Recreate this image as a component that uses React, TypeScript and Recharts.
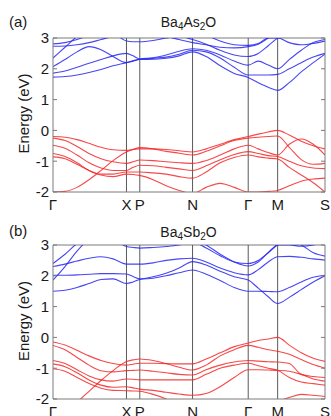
import React from 'react';
import { LineChart, Line, XAxis, YAxis, ReferenceLine } from 'recharts';

// k-path sample positions (arbitrary path-length units)
const kGrid = [0, 12, 24, 36, 48, 60, 73.4, 80, 86.7, 100, 113, 126, 139.4, 153, 167, 181, 195, 205, 215, 224.4, 236, 248, 260, 271.7];
const kTicks = [0, 73.4, 86.7, 139.4, 195, 224.4, 271.7];
const kLabels = ['Γ', 'X', 'P', 'N', 'Γ', 'M', 'S'];
const energyTicks = [-2, -1, 0, 1, 2, 3];

// Ba4As2O conduction bands
const asCond1 = [1.73, 1.75, 1.8, 1.88, 1.98, 2.1, 2.2, 2.25, 2.3, 2.31, 2.34, 2.42, 2.55, 2.4, 2.1, 1.85, 1.72, 1.55, 1.4, 1.3, 1.55, 1.9, 2.2, 2.48];
const asCond2 = [1.86, 1.93, 2.05, 2.18, 2.3, 2.42, 2.5, 2.42, 2.32, 2.34, 2.38, 2.47, 2.6, 2.55, 2.35, 2.05, 1.8, 1.8, 1.8, 1.82, 2.0, 2.2, 2.38, 2.5];
const asCond3 = [2.07, 2.3, 2.55, 2.72, 2.62, 2.4, 2.2, 2.26, 2.32, 2.36, 2.45, 2.57, 2.65, 2.6, 2.45, 2.25, 2.12, 2.25, 2.12, 2.0, 2.3, 2.6, 2.85, 2.95];
const asCond4 = [2.35, 2.7, 3.05, 3.3, 3.4, 3.2, 2.9, 2.88, 2.88, 2.92, 3.0, 3.05, 2.95, 2.8, 2.6, 2.45, 2.4, 2.5, 2.75, 3.0, 3.2, 3.3, 3.3, 3.3];
const asCond5 = [2.73, 2.74, 2.78, 2.85, 2.95, 3.05, 3.1, 3.1, 3.1, 3.1, 3.05, 2.95, 2.85, 2.78, 2.7, 2.68, 2.72, 2.8, 3.0, 3.2, 3.3, 3.3, 3.3, 3.3];
const asCond6 = [2.81, 2.85, 2.95, 3.1, 3.3, 3.4, 3.4, 3.4, 3.4, 3.4, 3.4, 3.35, 3.3, 3.1, 2.9, 2.78, 2.76, 2.82, 3.0, 3.0, 2.85, 2.78, 2.82, 2.9];

// Ba4As2O valence bands
const asVal1 = [-0.2, -0.22, -0.3, -0.42, -0.55, -0.63, -0.65, -0.62, -0.6, -0.6, -0.62, -0.66, -0.7, -0.6, -0.45, -0.3, -0.2, -0.12, -0.05, 0.0, -0.15, -0.35, -0.5, -0.6];
const asVal2 = [-2.0, -1.98, -1.85, -1.6, -1.3, -0.98, -0.7, -0.62, -0.56, -0.6, -0.68, -0.74, -0.8, -0.68, -0.5, -0.33, -0.25, -0.22, -0.2, -0.18, -0.55, -0.95, -1.1, -1.07];
const asVal3 = [-0.25, -0.33, -0.52, -0.75, -0.92, -1.02, -1.07, -1.02, -0.96, -0.98, -1.02, -1.05, -1.07, -0.98, -0.8, -0.6, -0.48, -0.6, -0.72, -0.8, -0.45, -0.28, -0.45, -0.8];
const asVal4 = [-0.48, -0.58, -0.8, -1.05, -1.22, -1.3, -1.3, -1.2, -1.13, -1.15, -1.2, -1.25, -1.3, -1.15, -0.95, -0.78, -0.69, -0.75, -0.82, -0.85, -1.0, -1.15, -1.22, -1.24];
const asVal5 = [-0.75, -0.85, -1.05, -1.3, -1.42, -1.42, -1.35, -1.35, -1.35, -1.38, -1.42, -1.5, -1.55, -1.35, -1.05, -0.88, -0.8, -0.86, -0.9, -0.93, -1.2, -1.45, -1.7, -2.0];
const asVal6 = [-0.86, -0.92, -1.1, -1.3, -1.45, -1.5, -1.42, -1.43, -1.46, -1.6, -1.8, -1.95, -2.05, -1.85, -1.72, -1.85, -2.0, -2.0, -1.98, -1.95, -1.8, -1.65, -1.58, -1.55];

// Ba4Sb2O conduction bands
const sbCond1 = [1.5, 1.53, 1.62, 1.75, 1.88, 1.9, 1.75, 1.8, 1.88, 1.92, 2.0, 2.1, 2.19, 2.05, 1.85, 1.62, 1.5, 1.5, 1.49, 1.48, 1.62, 1.8, 1.95, 2.02];
const sbCond2 = [2.02, 2.02, 2.03, 2.05, 2.07, 2.07, 2.06, 1.98, 1.9, 1.97, 2.08, 2.25, 2.46, 2.35, 2.15, 1.97, 1.86, 1.6, 1.32, 1.1, 1.3, 1.55, 1.8, 2.0];
const sbCond3 = [2.3, 2.38, 2.48, 2.57, 2.62, 2.55, 2.38, 2.38, 2.38, 2.42, 2.5, 2.55, 2.57, 2.45, 2.25, 2.1, 2.03, 2.2, 2.45, 2.62, 2.63, 2.6, 2.55, 2.51];
const sbCond4 = [2.4, 2.7, 3.05, 3.3, 3.4, 3.2, 2.95, 2.92, 2.9, 2.92, 2.95, 3.0, 3.1, 2.9, 2.65, 2.45, 2.4, 2.5, 2.75, 3.0, 3.1, 3.0, 2.75, 2.64];
const sbCond5 = [1.86, 2.3, 2.8, 3.2, 3.4, 3.4, 3.4, 3.4, 3.4, 3.35, 3.3, 3.25, 3.2, 3.0, 2.7, 2.45, 2.32, 2.45, 2.75, 3.0, 3.0, 2.96, 3.0, 3.1];

// Ba4Sb2O valence bands
const sbVal1 = [-0.15, -0.25, -0.42, -0.6, -0.75, -0.85, -0.9, -0.87, -0.84, -0.84, -0.85, -0.86, -0.86, -0.7, -0.5, -0.3, -0.18, -0.1, -0.05, 0.0, -0.25, -0.5, -0.68, -0.78];
const sbVal2 = [-2.6, -2.4, -2.1, -1.75, -1.4, -1.08, -0.78, -0.73, -0.7, -0.75, -0.85, -0.97, -1.06, -0.9, -0.6, -0.4, -0.26, -0.32, -0.4, -0.45, -0.55, -0.72, -0.88, -1.0];
const sbVal3 = [-0.26, -0.4, -0.65, -0.9, -1.08, -1.12, -1.08, -1.07, -1.06, -1.1, -1.15, -1.2, -1.22, -1.05, -0.9, -0.8, -0.75, -0.77, -0.79, -0.8, -0.85, -1.2, -1.27, -1.3];
const sbVal4 = [-0.75, -0.85, -1.05, -1.25, -1.38, -1.42, -1.35, -1.36, -1.38, -1.38, -1.38, -1.38, -1.38, -1.2, -1.0, -0.9, -0.84, -0.92, -1.0, -1.07, -1.3, -1.45, -1.5, -1.55];
const sbVal5 = [-0.86, -0.95, -1.15, -1.38, -1.55, -1.62, -1.6, -1.64, -1.68, -1.72, -1.78, -1.84, -1.88, -1.82, -1.6, -1.3, -1.05, -1.05, -1.06, -1.07, -1.1, -1.2, -1.35, -1.42];
const sbVal6 = [-1.02, -1.1, -1.3, -1.5, -1.65, -1.72, -1.73, -1.74, -1.75, -1.85, -2.0, -2.2, -2.4, -2.35, -2.25, -2.15, -2.08, -2.06, -2.05, -2.05, -1.95, -1.85, -1.88, -1.92];

const asCond = [asCond1, asCond2, asCond3, asCond4, asCond5, asCond6];
const asVal = [asVal1, asVal2, asVal3, asVal4, asVal5, asVal6];
const sbCond = [sbCond1, sbCond2, sbCond3, sbCond4, sbCond5];
const sbVal = [sbVal1, sbVal2, sbVal3, sbVal4, sbVal5, sbVal6];

const BLUE = '#2626f2';
const RED = '#f52828';
const FRAME = '#7a7a7a';
const FONT = '"Liberation Sans", Arial, sans-serif';

function buildRows(cond: number[][], val: number[][]) {
  return kGrid.map((k, i) => {
    const row: Record<string, number> = { k };
    cond.forEach((b, j) => { row['c' + j] = b[i]; });
    val.forEach((b, j) => { row['v' + j] = b[i]; });
    return row;
  });
}

function BandPanel({ cond, val }: { cond: number[][]; val: number[][] }) {
  const data = buildRows(cond, val);
  const tickStyle = { fontSize: 15, fill: '#1a1a1a', fontFamily: FONT };
  return (
    <LineChart width={331} height={216} data={data} margin={{ top: 38, right: 0, bottom: 0, left: 0 }}>
      <XAxis
        dataKey="k"
        type="number"
        domain={[0, 271.7]}
        allowDataOverflow
        ticks={kTicks}
        interval={0}
        tickFormatter={(v: number) => kLabels[kTicks.indexOf(v)] ?? ''}
        tickSize={0}
        tickMargin={7}
        height={24}
        tick={tickStyle}
        axisLine={{ stroke: FRAME, strokeWidth: 1 }}
      />
      <YAxis
        yAxisId="left"
        type="number"
        domain={[-2, 3]}
        allowDataOverflow
        ticks={energyTicks}
        interval={0}
        width={53}
        tickSize={-4}
        tickMargin={8}
        tick={tickStyle}
        tickLine={{ stroke: FRAME }}
        axisLine={{ stroke: FRAME, strokeWidth: 1 }}
      />
      <YAxis
        yAxisId="right"
        orientation="right"
        type="number"
        domain={[-2, 3]}
        allowDataOverflow
        ticks={energyTicks}
        interval={0}
        width={6}
        tickSize={-4}
        tickFormatter={() => ''}
        tickLine={{ stroke: FRAME }}
        axisLine={{ stroke: FRAME, strokeWidth: 1 }}
      />
      <ReferenceLine yAxisId="left" y={3} stroke={FRAME} strokeWidth={1} />
      {kTicks.slice(1, 6).map((x, i) => (
        <ReferenceLine key={'r' + i} yAxisId="left" x={x} stroke="#5a5a5a" strokeWidth={1} />
      ))}
      {cond.map((_, j) => (
        <Line key={'c' + j} yAxisId="left" type="monotone" dataKey={'c' + j} stroke={BLUE} strokeWidth={1.1} strokeOpacity={0.85} dot={false} isAnimationActive={false} />
      ))}
      {val.map((_, j) => (
        <Line key={'v' + j} yAxisId="left" type="monotone" dataKey={'v' + j} stroke={RED} strokeWidth={1.1} strokeOpacity={0.85} dot={false} isAnimationActive={false} />
      ))}
    </LineChart>
  );
}

function Title({ y, a, b }: { y: number; a: string; b: string }) {
  return (
    <text x={188.5} y={y} textAnchor="middle" fontSize={14} fontFamily={FONT} fill="#1a1a1a">
      <tspan>Ba</tspan>
      <tspan fontSize={10} dy={3}>4</tspan>
      <tspan dy={-3}>{a}</tspan>
      <tspan fontSize={10} dy={3}>2</tspan>
      <tspan dy={-3}>{b}</tspan>
    </text>
  );
}

export default function App() {
  return (
    <div style={{ position: 'absolute', left: 0, top: 0, width: 331, height: 416, background: '#fff', overflow: 'hidden' }}>
      <div style={{ position: 'absolute', left: 0, top: 207 }}>
        <BandPanel cond={sbCond} val={sbVal} />
      </div>
      <div style={{ position: 'absolute', left: 0, top: 0 }}>
        <BandPanel cond={asCond} val={asVal} />
      </div>
      <svg width={331} height={416} style={{ position: 'absolute', left: 0, top: 0, pointerEvents: 'none' }}>
        <text x={9} y={27} fontSize={15} fontFamily={FONT} fill="#1a1a1a">(a)</text>
        <Title y={27} a="As" b="O" />
        <text transform="translate(28.5,113.5) rotate(-90)" textAnchor="middle" fontSize={15} fontFamily={FONT} fill="#1a1a1a">Energy (eV)</text>
        <text x={9} y={236} fontSize={15} fontFamily={FONT} fill="#1a1a1a">(b)</text>
        <Title y={236.5} a="Sb" b="O" />
        <text transform="translate(28.5,321) rotate(-90)" textAnchor="middle" fontSize={15} fontFamily={FONT} fill="#1a1a1a">Energy (eV)</text>
      </svg>
    </div>
  );
}
